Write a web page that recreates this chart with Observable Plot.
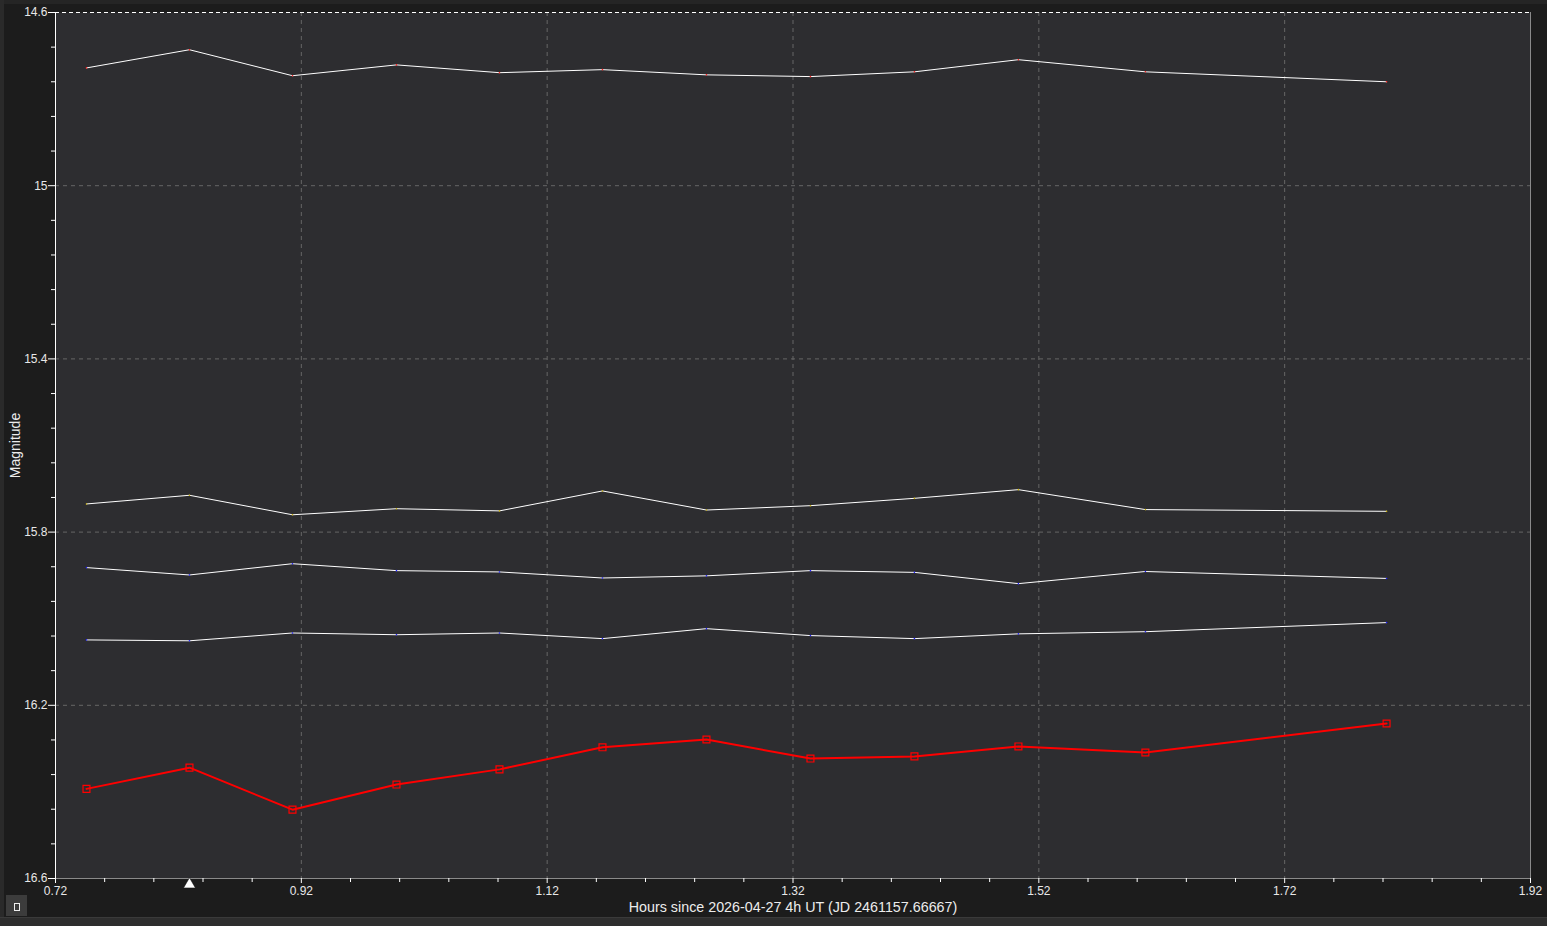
<!DOCTYPE html>
<html>
<head>
<meta charset="utf-8">
<script src="https://cdn.jsdelivr.net/npm/d3@7"></script>
<script src="https://cdn.jsdelivr.net/npm/@observablehq/plot@0.6"></script>
<style>
  html, body { margin: 0; padding: 0; background: #1c1c1c; }
  #wrap { position: relative; width: 1547px; height: 926px; overflow: hidden; }
  #chart svg { display: block; }
  .strip-bottom { position: absolute; left: 0; top: 917px; width: 1547px; height: 9px; background: #2e2e2e; border-top: 1px solid #3a3a3a; }
  .strip-left { position: absolute; left: 0; top: 0; width: 4px; height: 926px; background: #2a2a2a; }
  .strip-top { position: absolute; left: 0; top: 0; width: 1547px; height: 4px; background: #252525; }
  .btn { position: absolute; left: 6px; top: 895px; width: 21px; height: 21px; background: #3c3c3c; }
  .btn i { position: absolute; left: 8px; top: 8px; width: 4px; height: 6px; border: 1px solid #eee; }
</style>
</head>
<body>
<div id="wrap">
  <div id="chart"></div>
  <div class="strip-top"></div>
  <div class="strip-left"></div>
  <div class="strip-bottom"></div>
  <div class="btn"><i></i></div>
</div>
<script>
// Time of each frame (hours since 2026-04-27 4h UT)
const hours = [0.7452, 0.8290, 0.9128, 0.9974, 1.0812, 1.1650, 1.2496, 1.3342, 1.4188, 1.5034, 1.6067, 1.8029];

// Comparison stars (white lines)
const comp1 = [14.728, 14.686, 14.746, 14.721, 14.739, 14.732, 14.744, 14.748, 14.737, 14.709, 14.737, 14.760];
const comp2 = [15.735, 15.715, 15.760, 15.746, 15.751, 15.705, 15.749, 15.739, 15.722, 15.702, 15.748, 15.752];
const comp3 = [15.882, 15.899, 15.873, 15.889, 15.892, 15.906, 15.901, 15.889, 15.893, 15.919, 15.891, 15.907];
const comp4 = [16.049, 16.051, 16.033, 16.037, 16.033, 16.046, 16.023, 16.039, 16.046, 16.035, 16.030, 16.009];

// Target (red line)
const target = [16.393, 16.344, 16.441, 16.383, 16.348, 16.297, 16.279, 16.323, 16.318, 16.295, 16.309, 16.242];

// Tick values / labels
const xTicks = [0.72, 0.92, 1.12, 1.32, 1.52, 1.72, 1.92];
const xTickLabels = ["0.72", "0.92", "1.12", "1.32", "1.52", "1.72", "1.92"];
const xMinor = d3.range(0, 31).map(i => +(0.72 + i * 0.04).toFixed(2)).filter(v => !xTicks.includes(v));
const yTicks = [14.6, 15.0, 15.4, 15.8, 16.2, 16.6];
const yTickLabels = ["14.6", "15", "15.4", "15.8", "16.2", "16.6"];
const yMinor = d3.range(0, 26).map(i => +(14.6 + i * 0.08).toFixed(2)).filter(v => !yTicks.includes(v));
const markerHours = [0.8290];

const xLabel = "Hours since 2026-04-27 4h UT (JD 2461157.66667)";
const yLabel = "Magnitude";

const compSeries = [
  {name: "c1", values: comp1, dot: "#ff2020"},
  {name: "c2", values: comp2, dot: "#c8b000"},
  {name: "c3", values: comp3, dot: "#2020ff"},
  {name: "c4", values: comp4, dot: "#2020ff"}
];
const compRows = compSeries.flatMap(s => s.values.map((m, i) => ({series: s.name, h: hours[i], m, dot: s.dot})));
const targetRows = target.map((m, i) => ({h: hours[i], m}));

const xFmt = d => xTickLabels[xTicks.indexOf(d)] ?? "";
const yFmt = d => yTickLabels[yTicks.indexOf(d)] ?? "";

const chart = Plot.plot({
  width: 1547,
  height: 926,
  marginLeft: 55,
  marginRight: 17,
  marginTop: 12,
  marginBottom: 48,
  style: {background: "#1c1c1c", color: "#e8e8e8", fontFamily: "Liberation Sans, Arial, sans-serif", fontSize: "12px"},
  x: {domain: [0.72, 1.92]},
  y: {domain: [14.6, 16.6], reverse: true},
  marks: [
    Plot.frame({fill: "#2d2d30", stroke: null}),
    Plot.gridX(xTicks.slice(1, -1), {stroke: "#666666", strokeOpacity: 1, strokeDasharray: "4,4"}),
    Plot.gridY(yTicks.slice(1, -1), {stroke: "#666666", strokeOpacity: 1, strokeDasharray: "4,4"}),
    Plot.gridY([14.6], {stroke: "#ffffff", strokeOpacity: 1, strokeDasharray: "4,3"}),
    Plot.ruleY([16.6], {stroke: "#8a8a8a"}),
    Plot.ruleX([1.92], {stroke: "#8a8a8a"}),
    Plot.ruleX([0.72], {stroke: "#ffffff"}),
    Plot.axisX(xTicks, {tickSize: 5, tickPadding: 3, tickFormat: xFmt, stroke: "#ffffff", fill: "#e8e8e8", fontSize: 12, label: null}),
    Plot.axisX(xMinor, {tickSize: 4, text: null, stroke: "#ffffff", label: null}),
    Plot.axisY(yTicks, {tickSize: 7, tickPadding: 1, tickFormat: yFmt, stroke: "#ffffff", fill: "#e8e8e8", fontSize: 12, label: null}),
    Plot.axisY(yMinor, {tickSize: 4, text: null, stroke: "#ffffff", label: null}),
    Plot.line(compRows, {x: "h", y: "m", z: "series", stroke: "#ffffff", strokeWidth: 1}),
    Plot.dot(compRows, {x: "h", y: "m", r: 0.8, fill: "dot", stroke: null}),
    Plot.line(targetRows, {x: "h", y: "m", stroke: "#ff0000", strokeWidth: 2}),
    Plot.dot(targetRows, {x: "h", y: "m", symbol: "square", r: 3.9, stroke: "#ff0000", strokeWidth: 1.2, fill: "none"}),
    Plot.dot(markerHours, {x: d => d, y: () => 16.6, dy: 6, symbol: "triangle", r: 4.4, fill: "#ffffff", stroke: "#111", strokeWidth: 0.5}),
    Plot.text([xLabel], {frameAnchor: "bottom", dy: 29, text: d => d, fontSize: 14.3, fill: "#ececec", lineAnchor: "middle"}),
    Plot.text([yLabel], {frameAnchor: "left", dx: -40, rotate: -90, text: d => d, fontSize: 14, fill: "#ececec", textAnchor: "middle", lineAnchor: "middle"})
  ]
});
document.getElementById("chart").appendChild(chart);
</script>
</body>
</html>
